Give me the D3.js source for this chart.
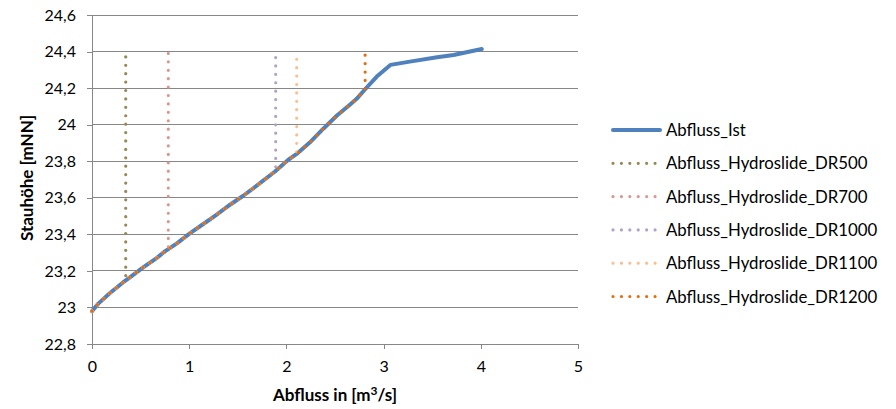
<!DOCTYPE html>
<html><head><meta charset="utf-8">
<script src="https://cdn.jsdelivr.net/npm/d3@7/dist/d3.min.js"></script>
<style>body{margin:0;background:#fff}svg{display:block}text{font-family:Lato,"Open Sans",sans-serif;fill:#000}</style>
</head><body><svg id="c" width="896" height="409"></svg>
<script>
// Abfluss_Ist curve (x = Abfluss m³/s, y = Stauhöhe mNN)
const istX = [0.0, 0.065, 0.185, 0.312, 0.39, 0.53, 0.665, 0.75, 0.87, 1.01, 1.16, 1.28, 1.42, 1.556, 1.728, 1.883, 2.02, 2.106, 2.24, 2.38, 2.52, 2.65, 2.72, 2.81, 2.93, 3.07, 3.27, 3.55, 3.72, 4.01];
const istY = [22.98, 23.021, 23.079, 23.134, 23.165, 23.221, 23.27, 23.307, 23.349, 23.407, 23.462, 23.507, 23.562, 23.611, 23.68, 23.744, 23.808, 23.84, 23.902, 23.978, 24.05, 24.108, 24.14, 24.194, 24.263, 24.327, 24.345, 24.369, 24.381, 24.414];
// Hydroslide series: follow the curve, then vertical at capacity
const drNames = ["Abfluss_Hydroslide_DR500", "Abfluss_Hydroslide_DR700", "Abfluss_Hydroslide_DR1000", "Abfluss_Hydroslide_DR1100", "Abfluss_Hydroslide_DR1200"];
const drX = [0.347, 0.785, 1.89, 2.106, 2.81];
const drBottom = [23.15, 23.318, 23.748, 23.84, 24.194];
const drTop = [24.378, 24.396, 24.4, 24.39, 24.39];
const drColors = ["#948A54", "#D99694", "#B3A2C7", "#FAC090", "#E46C0A"];
const xTicks = [0, 1, 2, 3, 4, 5];
const yTicks = [22.8, 23, 23.2, 23.4, 23.6, 23.8, 24, 24.2, 24.4, 24.6];
const yTickLabels = ["22,8", "23", "23,2", "23,4", "23,6", "23,8", "24", "24,2", "24,4", "24,6"];

const svg = d3.select("#c");
const L = 92, R = 578, T = 15, B = 344;
const x = d3.scaleLinear().domain([0, 5]).range([L, R]);
const y = d3.scaleLinear().domain([22.8, 24.6]).range([B, T]);

// grid
svg.append("g").selectAll("line").data(yTicks.slice(1)).join("line")
  .attr("x1", L).attr("x2", R).attr("y1", d => y(d)).attr("y2", d => y(d))
  .attr("stroke", "#878787").attr("stroke-width", 1).attr("shape-rendering", "crispEdges");

// axes
const yAxis = d3.axisLeft(y).tickValues(yTicks).tickSize(5).tickPadding(11)
  .tickFormat((d, i) => yTickLabels[i]);
const gy = svg.append("g").attr("transform", `translate(${L},0)`).call(yAxis);
const xAxis = d3.axisBottom(x).tickValues(xTicks).tickSize(5).tickPadding(12).tickFormat(d => d);
const gx = svg.append("g").attr("transform", `translate(0,${B})`).call(xAxis);
[gx, gy].forEach(g => {
  g.select(".domain").attr("stroke", "#878787").attr("shape-rendering", "crispEdges");
  g.selectAll(".tick line").attr("stroke", "#878787").attr("shape-rendering", "crispEdges");
  g.selectAll("text").attr("font-size", 16).attr("font-family", "Lato, sans-serif").attr("fill", "#000");
});

const line = d3.line().x(d => x(d[0])).y(d => y(d[1]));
const ist = istX.map((v, i) => [v, istY[i]]);

svg.append("path").datum(ist).attr("d", line).attr("fill", "none")
  .attr("stroke", "#4F81BD").attr("stroke-width", 4).attr("stroke-linejoin", "round").attr("stroke-linecap", "round");

drX.forEach((xv, k) => {
  const pts = ist.filter(p => p[0] < xv - 0.01);
  pts.push([xv, drBottom[k]], [xv, drTop[k]]);
  svg.append("path").datum(pts).attr("d", line).attr("fill", "none")
    .attr("stroke", drColors[k]).attr("stroke-width", 3.2)
    .attr("stroke-linecap", "round").attr("stroke-dasharray", "0.01 8.4");
});

// legend
const legNames = ["Abfluss_Ist"].concat(drNames);
const legColors = ["#4F81BD"].concat(drColors);
const lg = svg.append("g");
legNames.forEach((n, i) => {
  const yy = 130 + i * 33.3;
  const l = lg.append("line").attr("x1", 613).attr("x2", i === 0 ? 660 : 658).attr("y1", yy).attr("y2", yy)
    .attr("stroke", legColors[i]);
  if (i === 0) l.attr("stroke-width", 4).attr("stroke-linecap", "round");
  else l.attr("stroke-width", 3.2).attr("stroke-linecap", "round").attr("stroke-dasharray", "0.01 8.4");
  lg.append("text").attr("x", 666).attr("y", yy + 6).attr("font-size", 16.8).text(n);
});

// axis titles
svg.append("text").attr("x", 335).attr("y", 401).attr("text-anchor", "middle")
  .attr("font-size", 17).attr("font-weight", "bold")
  .html('Abfluss in [m<tspan dy="-6" font-size="12">3</tspan><tspan dy="6">/s]</tspan>');
svg.append("text").attr("transform", "translate(33,178) rotate(-90)").attr("text-anchor", "middle")
  .attr("font-size", 17).attr("font-weight", "bold").text("Stauhöhe [mNN]");
</script></body></html>
